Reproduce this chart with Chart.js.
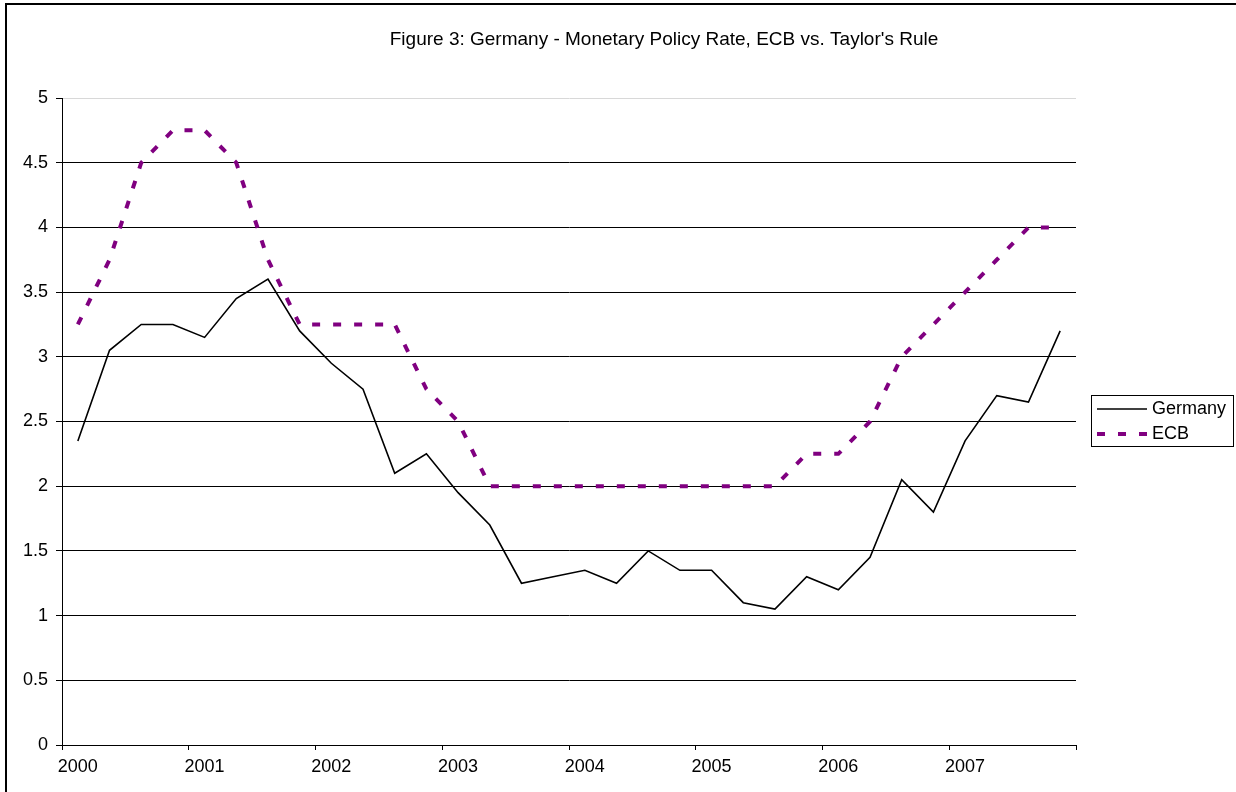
<!DOCTYPE html>
<html>
<head>
<meta charset="utf-8">
<script src="https://cdn.jsdelivr.net/npm/chart.js@4"></script>
<style>
  body { margin: 0; background: #fff; }
  #wrap { width: 1236px; height: 792px; }
</style>
</head>
<body>
<div id="wrap"><canvas id="rateChart" width="1236" height="792"></canvas></div>
<script>
// quarterly data, 2000Q1 .. 2007Q4
const quarters = [];
const years = ['2000', '2001', '2002', '2003', '2004', '2005', '2006', '2007'];
years.forEach(y => ['Q1', 'Q2', 'Q3', 'Q4'].forEach(q => quarters.push(y + q)));

const germany = [2.35, 3.05, 3.25, 3.25, 3.15, 3.45, 3.6, 3.2,
                 2.95, 2.75, 2.1, 2.25, 1.95, 1.7, 1.25, 1.3,
                 1.35, 1.25, 1.5, 1.35, 1.35, 1.1, 1.05, 1.3,
                 1.2, 1.45, 2.05, 1.8, 2.35, 2.7, 2.65, 3.2];
const ecb = [3.25, 3.75, 4.5, 4.75, 4.75, 4.5, 3.75, 3.25,
             3.25, 3.25, 3.25, 2.75, 2.5, 2.0, 2.0, 2.0,
             2.0, 2.0, 2.0, 2.0, 2.0, 2.0, 2.0, 2.25,
             2.25, 2.5, 3.0, 3.25, 3.5, 3.75, 4.0, 4.0];

const chartTitle = "Figure 3: Germany - Monetary Policy Rate, ECB vs. Taylor's Rule";
const fontFamily = "'Liberation Sans', Arial, sans-serif";

// frame, title and legend box drawn by hand (Excel style)
const decor = {
  id: 'decor',
  afterDraw(chart) {
    const ctx = chart.ctx;
    ctx.save();
    // outer frame (only top and left edges are visible)
    ctx.strokeStyle = '#000';
    ctx.lineWidth = 2;
    ctx.beginPath();
    ctx.moveTo(6, 800);
    ctx.lineTo(6, 4);
    ctx.lineTo(1240, 4);
    ctx.stroke();

    // title
    ctx.fillStyle = '#000';
    ctx.font = '19px ' + fontFamily;
    ctx.textAlign = 'center';
    ctx.textBaseline = 'middle';
    ctx.fillText(chartTitle, 664, 40);

    // legend
    ctx.font = '18px ' + fontFamily;
    ctx.lineWidth = 1;
    ctx.strokeStyle = '#000';
    ctx.strokeRect(1091.5, 395.5, 142, 51);
    ctx.textAlign = 'left';
    chart.data.datasets.forEach((ds, i) => {
      const y = 409 + i * 25;
      ctx.beginPath();
      ctx.strokeStyle = ds.borderColor;
      ctx.lineWidth = ds.borderWidth;
      ctx.setLineDash(ds.borderDash || []);
      ctx.moveTo(1097, y);
      ctx.lineTo(1147, y);
      ctx.stroke();
      ctx.setLineDash([]);
      ctx.fillStyle = '#000';
      ctx.fillText(ds.label, 1152, y);
    });
    ctx.restore();
  }
};

const ctx = document.getElementById('rateChart').getContext('2d');
const rateChart = new Chart(ctx, {
  type: 'line',
  data: {
    labels: quarters,
    datasets: [{
      label: 'Germany',
      data: germany,
      borderColor: '#000',
      borderWidth: 1.6,
      pointRadius: 0,
      tension: 0
    }, {
      label: 'ECB',
      data: ecb,
      borderColor: '#800080',
      borderWidth: 4,
      borderDash: [8, 13],
      borderCapStyle: 'butt',
      pointRadius: 0,
      tension: 0
    }]
  },
  options: {
    responsive: false,
    animation: false,
    layout: { padding: { left: 0, top: 98, right: 160, bottom: 0 } },
    plugins: {
      legend: { display: false },
      title: { display: false },
      tooltip: { enabled: false }
    },
    scales: {
      x: {
        type: 'category',
        offset: true,
        afterFit: s => { s.height = 47; },
        grid: {
          offset: true,
          drawOnChartArea: false,
          tickLength: 5,
          color: c => (c.index === undefined || c.index % 4 === 0) ? '#000' : 'rgba(0,0,0,0)'
        },
        border: { color: '#000', width: 1 },
        ticks: {
          autoSkip: false,
          maxRotation: 0,
          padding: 6,
          color: '#000',
          font: { family: fontFamily, size: 18 },
          callback: (v, i) => i % 4 === 0 ? years[i / 4] : ''
        }
      },
      y: {
        min: 0,
        max: 5,
        afterFit: s => { s.width = 62; },
        grid: {
          tickLength: 6,
          color: c => c.tick && c.tick.value === 5 ? '#d8d8d8' : '#000',
          tickColor: '#000'
        },
        border: { color: '#000', width: 1 },
        ticks: {
          stepSize: 0.5,
          padding: 8,
          color: '#000',
          font: { family: fontFamily, size: 18 },
          callback: v => String(v)
        }
      }
    }
  },
  plugins: [decor]
});
</script>
</body>
</html>
